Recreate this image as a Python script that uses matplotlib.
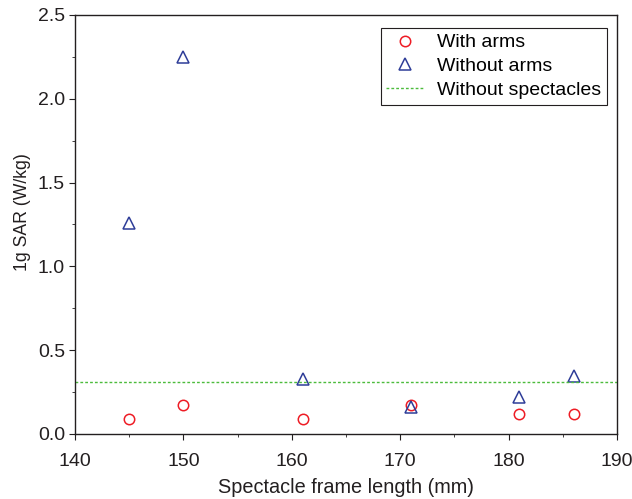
import numpy as np
import matplotlib.pyplot as plt
from matplotlib.ticker import MultipleLocator

plt.rcParams['font.family'] = ['Liberation Sans', 'DejaVu Sans']

# Data
frame_length = [145, 150, 161, 171, 181, 186]
sar_with_arms = [0.09, 0.17, 0.09, 0.17, 0.12, 0.12]
sar_without_arms = [1.26, 2.25, 0.33, 0.16, 0.22, 0.345]
sar_without_spectacles = 0.31

ink = '#231f20'

fig = plt.figure(figsize=(6.32, 4.99), dpi=100)
ax = fig.add_axes([0.1187, 0.1303, 0.8576, 0.8397])

ax.plot(frame_length, sar_with_arms, 'o', ls='none', mfc='none', mec='#ee1c25',
        ms=7.5, mew=1.1, label="With arms")
ax.plot(frame_length, sar_without_arms, '^', ls='none', mfc='none', mec='#2e3d98',
        ms=8.5, mew=1.1, label="Without arms")
ax.axhline(sar_without_spectacles, color='#4cbc3c', ls=(0, (2, 1.5)), lw=1.0,
           label="Without spectacles")

ax.set_xlim(140, 190)
ax.set_ylim(0, 2.5)
ax.xaxis.set_major_locator(MultipleLocator(10))
ax.xaxis.set_minor_locator(MultipleLocator(5))
ax.yaxis.set_major_locator(MultipleLocator(0.5))
ax.yaxis.set_minor_locator(MultipleLocator(0.25))
ax.yaxis.set_major_formatter(plt.FormatStrFormatter('%.1f'))
ax.tick_params(which='both', direction='out', top=False, right=False, color=ink)
ax.tick_params(which='major', length=4.3, labelsize=14, labelcolor=ink)
ax.tick_params(which='minor', length=2.5)
ax.tick_params(axis='x', which='major', pad=9.5)
ax.tick_params(axis='y', which='major', pad=3)
for s in ax.spines.values():
    s.set_linewidth(1.0)
    s.set_color(ink)

ax.set_xlabel("Spectacle frame length (mm)", size=14.3, color=ink)
ax.set_ylabel("1g SAR (W/kg)", size=12.7, color=ink)
ax.xaxis.set_label_coords(0.5, -0.106)
ax.yaxis.set_label_coords(-0.082, 0.53)

leg = ax.legend(loc='upper right', bbox_to_anchor=(0.9815, 0.969), borderaxespad=0,
                prop={'size': 14}, fancybox=False, edgecolor=ink, framealpha=1,
                handlelength=1.95, handletextpad=0.65, borderpad=0.3, labelspacing=0.32)
leg.get_frame().set_linewidth(0.8)

plt.savefig('out.png', dpi=100)
